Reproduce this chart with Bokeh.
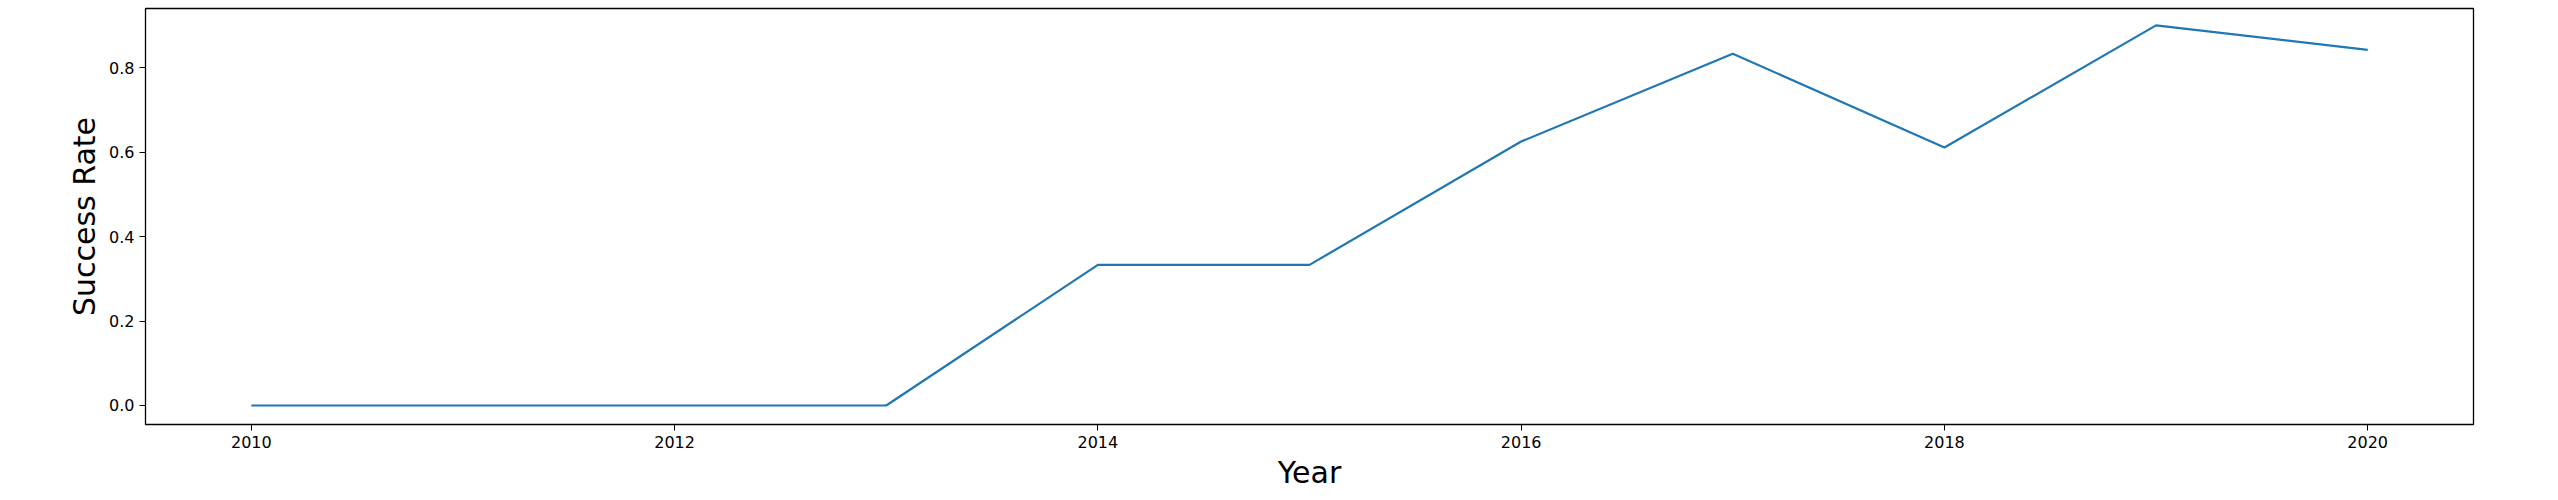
from bokeh.plotting import figure
from bokeh.embed import file_html
from bokeh.resources import INLINE
from bokeh.models import FixedTicker, Range1d

years = [2010, 2011, 2012, 2013, 2014, 2015, 2016, 2017, 2018, 2019, 2020]
success_rate = [0.0, 0.0, 0.0, 0.0, 0.333, 0.333, 0.625, 0.833, 0.611, 0.9, 0.842]
x_ticks = [2010, 2012, 2014, 2016, 2018, 2020]
y_ticks = [0.0, 0.2, 0.4, 0.6, 0.8]

p = figure(width=2542, height=492, output_backend="svg", toolbar_location=None,
           x_range=Range1d(2009.5, 2020.5), y_range=Range1d(-0.045, 0.94),
           min_border_left=145, min_border_right=69, min_border_top=8, min_border_bottom=30)
p.line(years, success_rate, line_color="#1f77b4", line_width=2.2)

p.xaxis.ticker = FixedTicker(ticks=x_ticks)
p.yaxis.ticker = FixedTicker(ticks=y_ticks)
p.yaxis.major_label_overrides = {t: "%.1f" % t for t in y_ticks}
p.xaxis.axis_label = "Year"
p.yaxis.axis_label = "Success Rate"
for ax in (p.xaxis, p.yaxis):
    ax.axis_label_text_font = "DejaVu Sans"
    ax.axis_label_text_font_style = "normal"
    ax.axis_label_text_font_size = "30px"
    ax.axis_label_text_color = "black"
    ax.major_label_text_font = "DejaVu Sans"
    ax.major_label_text_font_size = "16px"
    ax.major_label_text_color = "black"
    ax.minor_tick_line_color = None
    ax.major_tick_out = 6
    ax.major_tick_in = 0
    ax.axis_line_color = None
    ax.axis_label_standoff = 4
p.xgrid.grid_line_color = None
p.ygrid.grid_line_color = None
p.outline_line_color = "black"
p.outline_line_width = 1.3

open("out.html", "w").write(file_html(p, INLINE))
